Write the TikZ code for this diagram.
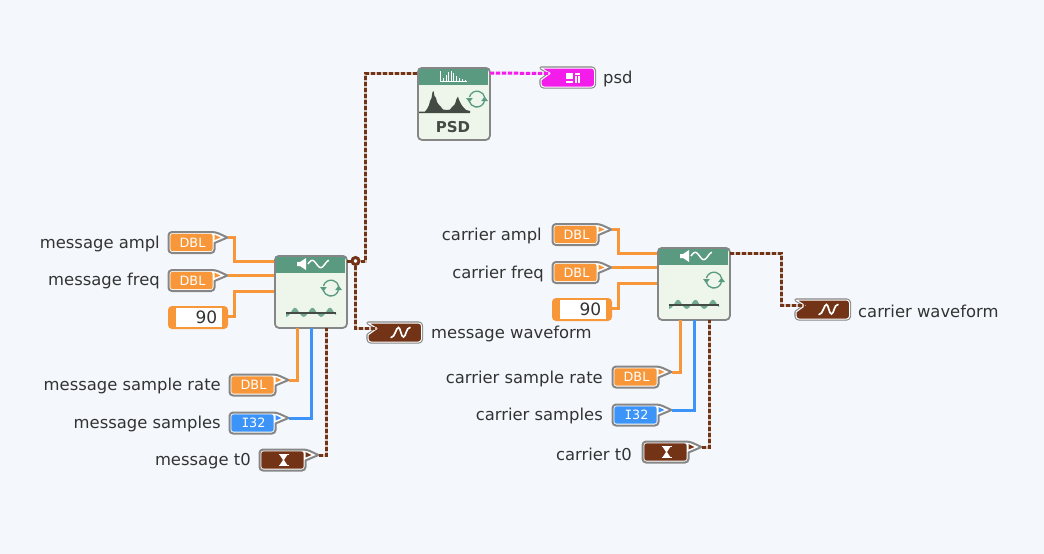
\documentclass[tikz,border=0pt]{standalone}
\usepackage{fontspec}
\setmainfont{DejaVu Sans}
\newfontfamily\monof{DejaVu Sans Mono}
\usetikzlibrary{calc,arrows.meta}
\definecolor{bgc}{HTML}{F4F8FC}
\definecolor{orw}{HTML}{F7973A}
\definecolor{blw}{HTML}{3D94F8}
\definecolor{brw}{HTML}{733316}
\definecolor{mgw}{HTML}{F41CEB}
\definecolor{hdr}{HTML}{5A9A80}
\definecolor{vbg}{HTML}{EEF6EC}
\definecolor{edge}{HTML}{868686}
\definecolor{dk}{HTML}{444A44}
\definecolor{txt}{HTML}{333333}
\tikzset{
 lab/.style={font=\fontsize{16.4}{18}\selectfont,text=txt,inner sep=0pt},
 tagtxt/.style={font=\fontsize{12.8}{14}\selectfont,text=white,inner sep=0pt},
 orwire/.style={draw=orw,line width=3pt},
 blwire/.style={draw=blw,line width=3pt},
 brwire/.style={draw=brw,line width=3pt,dash pattern=on 4pt off 2pt,preaction={draw=brw!30!white,line width=3pt,dash pattern=}},
 mgwire/.style={draw=mgw,line width=3pt,dash pattern=on 4pt off 2pt,preaction={draw=mgw!20!white,line width=3pt,dash pattern=}},
 viblk/.style={draw=edge,line width=1.8pt,fill=vbg,rounded corners=4pt,minimum width=72pt,minimum height=72pt,inner sep=0pt},
 junct/.style={circle,draw=brw,line width=3pt,fill=bgc,minimum size=7pt,inner sep=0pt},
 iconline/.style={draw=hdr,line width=1.3pt},
}
% control terminal: left, top, colour, name, text
\newcommand{\ctltag}[5]{
 \begin{scope}[shift={(#1,#2)}]
  \draw[edge,line width=2pt,fill=white,line join=round] (0,10) [rounded corners=3.5pt] -- (0,0) -- (47,0) [sharp corners] -- (59,5.5) -- (46,11) [rounded corners=3.5pt] -- (46,21) -- (0,21) -- cycle;
  \fill[#3,rounded corners=2.5pt] (1.8,1.8) rectangle (44.2,19.2);
  \fill[#3] (46,2.6) -- (52,5.5) -- (46,8) -- cycle;
  \node[tagtxt,minimum width=40pt] (#4) at (24,10.5) {#5};
  \coordinate (#4-tip) at (59,5.5);
 \end{scope}}
% indicator terminal: left, top, colour, name
\newcommand{\indtag}[4]{
 \begin{scope}[shift={(#1,#2)}]
  \draw[edge,line width=3.2pt,line join=round] (1,1) [rounded corners=3pt] -- (54.5,1) -- (54.5,20) -- (1,20) [sharp corners] -- (1,13) -- (10,6.5) -- cycle;
  \draw[white,line width=1pt,fill=#3,line join=round] (1,1) [rounded corners=3pt] -- (54.5,1) -- (54.5,20) -- (1,20) [sharp corners] -- (1,13) -- (10,6.5) -- cycle;
  \coordinate (#4) at (33,10.5);
  \coordinate (#4-tip) at (10,6.5);
 \end{scope}}
\newcommand{\consttag}[4]{
 \begin{scope}[shift={(#1,#2)}]
  \fill[orw,rounded corners=4pt] (0,0) rectangle (60,23);
  \fill[white] (8,2.3) rectangle (54,20.7);
  \node[lab,anchor=east,text=txt,font=\fontsize{17}{18}\selectfont] (#3) at (49.5,11.5) {#4};
  \coordinate (#3-tip) at (60,10);
 \end{scope}}
\newcommand{\syncicon}[2]{
 \begin{scope}[shift={(#1,#2)}]
  \draw[iconline] (7.6,1.5) arc[start angle=10,end angle=165,radius=7.9];
  \draw[iconline] (-7.6,-2) arc[start angle=195,end angle=350,radius=7.9];
  \fill[hdr] (-11,-1) -- (-4.2,-1) -- (-7.6,3.5) -- cycle;
  \fill[hdr] (11,2) -- (4.2,2) -- (7.6,-2.5) -- cycle;
 \end{scope}}
\newcommand{\viblock}[3]{% name,left,top
 \node[viblk,anchor=north west] (#1) at (#2,#3) {};
 \begin{scope}[shift={(#2,#3)}]
  \fill[hdr] (1.5,2) rectangle (70.5,18);
  \fill[white] (23,7) -- (26,7) -- (32,3) -- (32,15) -- (26,11) -- (23,11) -- cycle;
  \draw[white,line width=1.5pt,domain=0:21,samples=30,smooth] plot ({34+\x},{9-3.6*sin(\x*21.18)});
  \syncicon{57}{33}
  \fill[hdr!85!white,domain=12:62,samples=60] (12,58) -- plot ({\x},{58-(sin((\x-16.6)*20.6)>0?5.2:3.8)*sin((\x-16.6)*20.6)}) -- (62,58) -- cycle;
  \draw[dk,line width=1.2pt] (12,58) -- (62,58);
 \end{scope}}
\begin{document}
\begin{tikzpicture}[x=1pt,y=-1pt]
\useasboundingbox (0,0) rectangle (1044,554);
\fill[bgc] (0,0) rectangle (1044,554);

% blocks
\viblock{vm}{274}{255}
\viblock{vc}{657}{247}
\node[viblk,anchor=north west] (vp) at (417,67) {};
\begin{scope}[shift={(417,67)}]
 \fill[hdr] (1.5,2) rectangle (70.5,18);
 \draw[white,line width=.9pt] (23,4) -- (23,14.5) -- (50,14.5);
 \foreach \a/\b in {26/3,29/6,31.5/9,34/9.5,36.5/8,39/5,42/3,45/1.5,48/1}{\draw[white,line width=.9pt] (\a,13.5) -- ++(0,-\b);}
 \fill[dk] (2,46) -- (2,44.5) -- (8,44.5) -- (10,42) -- (12,38) -- (13,34) -- (14.5,31) -- (15.5,25) -- (16.5,24) -- (17.5,29) -- (19,31) -- (20,35) -- (22,38) -- (24,40) -- (26,42.5) -- (30,43) -- (33,42.5) -- (35,40) -- (38,37) -- (39.5,32) -- (41,29.5) -- (42,33) -- (44,37) -- (46,40) -- (49,43) -- (53,44) -- (53,46) -- cycle;
 \syncicon{60}{32}
 \node[font=\bfseries\fontsize{15}{16}\selectfont,text=dk,inner sep=0pt] (psdname) at (36,60.5) {PSD};
\end{scope}

% VI pins
\foreach \v/\x/\y in {vm/274/255,vc/657/247}{
 \coordinate (\v-l1) at (\x,\y+6);
 \coordinate (\v-l2) at (\x,\y+21);
 \coordinate (\v-l3) at (\x,\y+36);
 \coordinate (\v-b1) at (\x+23,\y+73);
 \coordinate (\v-b2) at (\x+37,\y+73);
 \coordinate (\v-b3) at (\x+52,\y+73);
 \coordinate (\v-r1) at (\x+73,\y+6);
}
\coordinate (vp-l) at (417,73);
\coordinate (vp-r) at (490,73);

% terminals
\ctltag{168.5}{232}{orw}{mampl}{DBL}
\ctltag{168.5}{270}{orw}{mfreq}{DBL}
\consttag{168}{306}{mphase}{90}
\ctltag{229.5}{374.5}{orw}{mrate}{DBL}
\ctltag{229.5}{412.5}{blw}{msamp}{{\monof I}32}
\ctltag{259.5}{449.5}{brw}{mtz}{}
\indtag{367}{322}{brw}{mwave}
\ctltag{552.5}{224}{orw}{campl}{DBL}
\ctltag{552.5}{262}{orw}{cfreq}{DBL}
\consttag{552}{298}{cphase}{90}
\ctltag{612.5}{366.5}{orw}{crate}{DBL}
\ctltag{612.5}{404.5}{blw}{csamp}{{\monof I}32}
\ctltag{642.5}{441.5}{brw}{ctz}{}
\indtag{795}{299}{brw}{cwave}
\indtag{540}{67}{mgw}{psdout}

% terminal glyphs
\foreach \c in {mtz,ctz}{
 \begin{scope}[shift={(\c)}]
  \draw[white,line width=1pt] (-5,-5.5) -- (5,-5.5) (-5,5.5) -- (5,5.5);
  \fill[white] (-3.8,-5) -- (3.8,-5) -- (0.5,0) -- (3.8,5) -- (-3.8,5) -- (-0.5,0) -- cycle;
 \end{scope}}
\foreach \c in {mwave,cwave}{
 \draw[white,line width=1.7pt,line cap=round,shift={(\c)}] (-9,5) .. controls (-5,5) and (-4,-5) .. (-1.5,-5) .. controls (0.5,-5) and (1,4.5) .. (3.5,4.5) .. controls (6,4.5) and (6,-5) .. (10,-5);
}
\begin{scope}[shift={(psdout)}]
 \fill[white] (-7,-5) rectangle (0,1.5);
 \fill[white] (-7,3) rectangle (0,5);
 \fill[white] (2,-5) rectangle (7,-3);
 \fill[white] (2,-1.5) rectangle (4,5);
 \fill[white] (5,-1.5) rectangle (7,5);
\end{scope}

% wires
\draw[orwire] (mampl-tip) -- ++(7,0) |- (vm-l1);
\draw[orwire] (mfreq-tip) -- (vm-l2 |- mfreq-tip);
\draw[orwire] (mphase-tip) -- ++(6,0) |- (vm-l3);
\draw[orwire] (mrate-tip) -| (vm-b1);
\draw[blwire] (msamp-tip) -| (vm-b2);
\draw[brwire] (mtz-tip) -| (vm-b3);
\draw[orwire] (campl-tip) -- ++(7,0) |- (vc-l1);
\draw[orwire] (cfreq-tip) -- (vc-l2 |- cfreq-tip);
\draw[orwire] (cphase-tip) -- ++(6,0) |- (vc-l3);
\draw[orwire] (crate-tip) -| (vc-b1);
\draw[blwire] (csamp-tip) -| (vc-b2);
\draw[brwire] (ctz-tip) -| (vc-b3);
\draw[brwire] (vc-r1) -| ($(cwave-tip)+(-24,0)$) -- (cwave-tip);
\node[junct] (jn) at (355.5,261) {};
\draw[brwire] (vm-r1) -- (jn.west);
\draw[brwire] (jn.east) -- ++(5,0) |- (vp-l);
\draw[brwire] (jn.south) |- (mwave-tip);
\draw[mgwire] (vp-r) -- (psdout-tip);

% labels
\node[lab,anchor=east] at (160,244) {message ampl};
\node[lab,anchor=east] at (160,281) {message freq};
\node[lab,anchor=east] at (221,386) {message sample rate};
\node[lab,anchor=east] at (221,424) {message samples};
\node[lab,anchor=east] at (251,461) {message t0};
\node[lab,anchor=west] at (431,334) {message waveform};
\node[lab,anchor=east] at (542,236) {carrier ampl};
\node[lab,anchor=east] at (544,274) {carrier freq};
\node[lab,anchor=east] at (603,379) {carrier sample rate};
\node[lab,anchor=east] at (603,416) {carrier samples};
\node[lab,anchor=east] at (632,454) {carrier t0};
\node[lab,anchor=west] at (858,311) {carrier waveform};
\node[lab,anchor=west] at (603,79) {psd};
\end{tikzpicture}
\end{document}
